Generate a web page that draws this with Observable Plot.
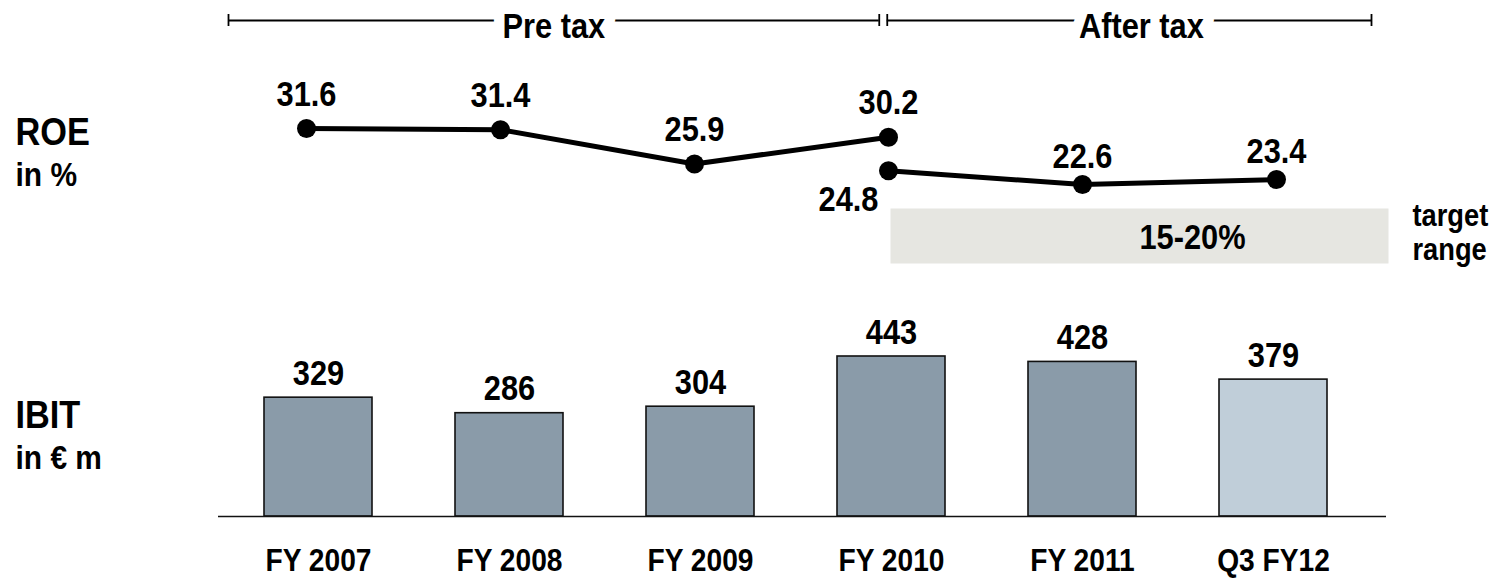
<!DOCTYPE html>
<html>
<head>
<meta charset="utf-8">
<script src="https://cdn.jsdelivr.net/npm/d3@7"></script>
<script src="https://cdn.jsdelivr.net/npm/@observablehq/plot@0.6"></script>
<style>
  html, body { margin: 0; padding: 0; background: #fff; }
  #chart { position: relative; width: 1506px; height: 581px; }
  #chart svg { position: absolute; left: 0; top: 0; background: transparent; }
</style>
</head>
<body>
<div id="chart"></div>
<script>
// ---- data ----
const categories = ["FY 2007", "FY 2008", "FY 2009", "FY 2010", "FY 2011", "Q3 FY12"];
const ibit = [329, 286, 304, 443, 428, 379];
const ibitKind = ["full year", "full year", "full year", "full year", "full year", "year to date"];

const roePreTaxPeriods = ["FY 2007", "FY 2008", "FY 2009", "FY 2010"];
const roePreTax = [31.6, 31.4, 25.9, 30.2];
const roeAfterTaxPeriods = ["FY 2010", "FY 2011", "Q3 FY12"];
const roeAfterTax = [24.8, 22.6, 23.4];

const targetRange = [15, 20];
const targetLabel = ["target", "range"];
const bracketLabels = ["Pre tax", "After tax"];
const sideLabels = [["ROE", "in %"], ["IBIT", "in € m"]];

// ---- derived tables ----
const ibitData = categories.map((c, i) => ({period: c, value: ibit[i], kind: ibitKind[i]}));
const roeData = [
  ...roePreTaxPeriods.map((p, i) => ({period: p, value: roePreTax[i], basis: "Pre tax"})),
  ...roeAfterTaxPeriods.map((p, i) => ({period: p, value: roeAfterTax[i], basis: "After tax"}))
];
// bracket spans in category-slot units: slot i covers [i, i+1]
const idx = c => categories.indexOf(c);
const brackets = [
  {label: bracketLabels[0], from: idx(roePreTaxPeriods[0]), to: idx(roePreTaxPeriods.at(-1)) + 0.5},
  {label: bracketLabels[1], from: idx(roeAfterTaxPeriods[0]) + 0.5, to: idx(roeAfterTaxPeriods.at(-1)) + 1}
];

const FONT = "'Liberation Sans', Arial, Helvetica, sans-serif";
const W = 1506, H = 581;
const base = {width: W, height: H, margin: 0, style: {fontFamily: FONT, background: "transparent", color: "#000"}};
const chart = document.getElementById("chart");
const T = {fontWeight: "bold", fill: "#000"};

// ---- layer 1: IBIT bars ----
const bars = Plot.plot({
  ...base,
  x: {type: "band", domain: categories, range: [221.4, 1368.6], paddingInner: 0.435, paddingOuter: 0.2175, axis: null},
  y: {domain: [0, 443], range: [516, 356], axis: null},
  color: {type: "ordinal", domain: ["full year", "year to date"], range: ["#8a9ba9", "#c0ced9"]},
  marks: [
    Plot.barY(ibitData, {x: "period", y: "value", fill: "kind", stroke: "#111", strokeWidth: 1.6}),
    Plot.ruleY([0], {insetLeft: 218, insetRight: 120, stroke: "#111", strokeWidth: 1.6}),
    Plot.text(ibitData, {x: "period", y: "value", text: d => String(d.value), dy: -13, lineAnchor: "bottom", fontSize: 35, ...T}),
    Plot.text(ibitData, {x: "period", y: () => 0, text: "period", dy: 44, lineAnchor: "middle", fontSize: 32, ...T}),
    // left side labels
    Plot.text([sideLabels[0][0]], {frameAnchor: "top-left", dx: 15, dy: 132, textAnchor: "start", lineAnchor: "middle", fontSize: 39, ...T}),
    Plot.text([sideLabels[0][1]], {frameAnchor: "top-left", dx: 15, dy: 175, textAnchor: "start", lineAnchor: "middle", fontSize: 34, ...T}),
    Plot.text([sideLabels[1][0]], {frameAnchor: "top-left", dx: 15, dy: 415, textAnchor: "start", lineAnchor: "middle", fontSize: 39, ...T}),
    Plot.text([sideLabels[1][1]], {frameAnchor: "top-left", dx: 15, dy: 458, textAnchor: "start", lineAnchor: "middle", fontSize: 34, ...T})
  ]
});
chart.appendChild(bars);

// ---- layer 2: ROE lines + target box ----
const isBelow = d => d.basis === "After tax" && d.period === roeAfterTaxPeriods[0];
const fmt = d => d.value.toFixed(1);
const roe = Plot.plot({
  ...base,
  x: {type: "point", domain: categories, range: [305, 1277], padding: 0, axis: null},
  y: {domain: [22.6, 31.6], range: [184, 128], axis: null},
  marks: [
    Plot.frame({fill: "#e6e6e1", stroke: null, insetTop: 208, insetBottom: 318, insetLeft: 890, insetRight: 118}),
    Plot.text([`${targetRange[0]}-${targetRange[1]}%`], {frameAnchor: "top-left", dx: 1139, dy: 237, lineAnchor: "middle", fontSize: 35, ...T}),
    Plot.text([targetLabel[0]], {frameAnchor: "top-left", dx: 1412, dy: 225, textAnchor: "start", lineAnchor: "bottom", fontSize: 31, ...T}),
    Plot.text([targetLabel[1]], {frameAnchor: "top-left", dx: 1412, dy: 259, textAnchor: "start", lineAnchor: "bottom", fontSize: 31, ...T}),
    Plot.line(roeData, {x: "period", y: "value", z: "basis", stroke: "#000", strokeWidth: 5}),
    Plot.dot(roeData, {x: "period", y: "value", r: 9.5, fill: "#000", stroke: null}),
    Plot.text(roeData.filter(d => d.basis === "Pre tax"), {x: "period", y: "value", text: fmt, dy: -23, lineAnchor: "bottom", fontSize: 35, ...T}),
    Plot.text(roeData.filter(d => d.basis === "After tax" && !isBelow(d)), {x: "period", y: "value", text: fmt, dy: -17, lineAnchor: "bottom", fontSize: 35, ...T}),
    Plot.text(roeData.filter(isBelow), {x: "period", y: "value", text: fmt, dx: -10, dy: 15, textAnchor: "end", lineAnchor: "top", fontSize: 35, ...T})
  ]
});
chart.appendChild(roe);

// ---- layer 3: Pre tax / After tax brackets ----
const pre = brackets[0], post = brackets[1];
const S = {stroke: "#000", strokeWidth: 1.8};
const header = Plot.plot({
  ...base,
  x: {type: "linear", domain: [0, 6], range: [228, 1371], axis: null},
  y: {type: "linear", domain: [-1, 1], range: [32, 8], axis: null},
  marks: [
    Plot.ruleY([0], {x1: pre.from, x2: pre.to, insetRight: 16, ...S}),
    Plot.ruleY([0], {x1: post.from, x2: post.to, insetLeft: -8, ...S}),
    Plot.ruleX([pre.from], {y1: -0.5, y2: 0.5, ...S}),
    Plot.ruleX([pre.to], {y1: -0.5, y2: 0.5, dx: -16, ...S}),
    Plot.ruleX([post.from], {y1: -0.5, y2: 0.5, dx: -8, ...S}),
    Plot.ruleX([post.to], {y1: -0.5, y2: 0.5, ...S}),
    Plot.text([pre], {x: d => (d.from + d.to) / 2, y: () => 0, text: "label", dx: -8, dy: 6, lineAnchor: "middle",
      fontSize: 35, ...T, stroke: "#fff", strokeWidth: 24}),
    Plot.text([post], {x: d => (d.from + d.to) / 2, y: () => 0, text: "label", dx: 8, dy: 6, lineAnchor: "middle",
      fontSize: 35, ...T, stroke: "#fff", strokeWidth: 24})
  ]
});
chart.appendChild(header);

// condensed bold look of the original lettering: narrow each label around its anchor
chart.querySelectorAll("text").forEach(t => {
  const tr = t.getAttribute("transform") || "";
  t.setAttribute("transform", (tr + " scale(0.88,1)").trim());
});
</script>
</body>
</html>
